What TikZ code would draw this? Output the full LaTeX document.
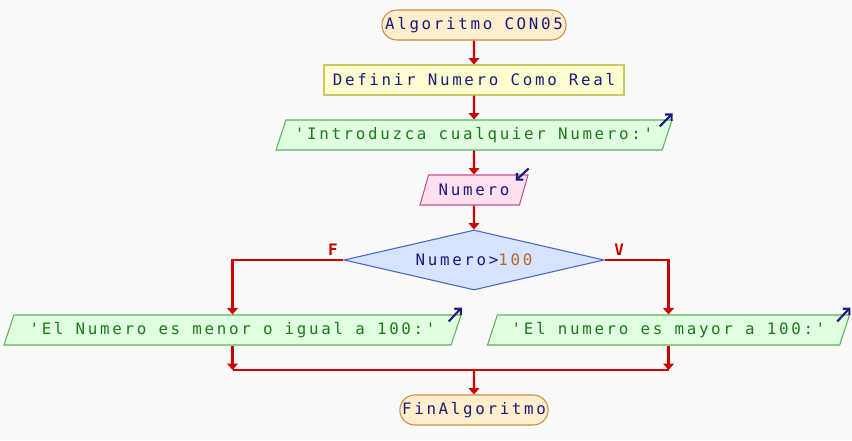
\documentclass[tikz,border=0pt]{standalone}
\usepackage{fontspec}
\newfontfamily\psfont[LetterSpace=17]{DejaVu Sans Mono}
\usepackage{xcolor}
\definecolor{psbg}{RGB}{250,250,250}
\definecolor{psred}{RGB}{204,0,0}
\definecolor{psnavy}{RGB}{26,26,128}
\definecolor{psgreen}{RGB}{30,120,30}
\definecolor{psnum}{RGB}{190,100,40}
\definecolor{psstartfill}{RGB}{255,238,204}
\definecolor{psstartdraw}{RGB}{200,140,70}
\definecolor{psdeffill}{RGB}{255,255,208}
\definecolor{psdefdraw}{RGB}{200,200,100}
\definecolor{psoutfill}{RGB}{224,255,224}
\definecolor{psoutdraw}{RGB}{90,180,90}
\definecolor{psinfill}{RGB}{255,224,240}
\definecolor{psindraw}{RGB}{200,80,140}
\definecolor{psiffill}{RGB}{214,228,255}
\definecolor{psifdraw}{RGB}{70,100,200}
\usepackage{tikz}
\usetikzlibrary{arrows.meta, positioning, shapes.geometric, shapes.misc}

\tikzset{
  psstart/.style={rounded rectangle, draw=psstartdraw, fill=psstartfill, line width=0.6pt,
    minimum height=0.6cm, text=psnavy},
  psdef/.style={rectangle, draw=psdefdraw, fill=psdeffill, line width=0.6pt,
    minimum height=0.6cm, text=psnavy},
  psout/.style={trapezium, trapezium left angle=70, trapezium right angle=110,
    trapezium stretches body, draw=psoutdraw, fill=psoutfill, line width=0.6pt,
    minimum height=0.6cm, text=psgreen},
  psin/.style={psout, draw=psindraw, fill=psinfill, text=psnavy},
  psif/.style={diamond, aspect=4.33, draw=psifdraw, fill=psiffill, line width=0.6pt,
    minimum width=5.2cm, minimum height=1.2cm, inner sep=0pt, text=psnavy},
  psflow/.style={draw=psred, line width=1.2pt, -{Triangle[length=3.6pt,width=6pt]}},
  psline/.style={draw=psred, line width=1.2pt},
  psflag/.style={text=psred, font=\psfont\fontsize{9}{11}\selectfont\bfseries, inner sep=1pt},
  psicon/.style={draw=psnavy, line width=1.2pt, -{Straight Barb[length=2.6pt]}}
}

\begin{document}
\begin{tikzpicture}[font=\psfont\fontsize{9}{11}\selectfont]
  \fill[psbg] (0,0) rectangle (17.04,8.8);
  \useasboundingbox (0,0) rectangle (17.04,8.8);

  % main column
  \node[psstart, minimum width=3.92cm] (start) at (9.48,8.3) {Algoritmo CON05};
  \node[psdef, minimum width=6.0cm] (def) at (9.48,7.2) {Definir Numero Como Real};
  \node[psout, minimum width=7.92cm] (out1) at (9.48,6.1) {'Introduzca cualquier Numero:'};
  \node[psin, minimum width=2.16cm] (in1) at (9.48,5.0) {Numero};
  \node[psif] (cond) at (9.48,3.6) {Numero>\textcolor{psnum}{100}};

  % branches
  \node[psout, minimum width=9.14cm] (outL) at (4.65,2.2) {'El Numero es menor o igual a 100:'};
  \node[psout, minimum width=7.24cm] (outR) at (13.37,2.2) {'El numero es mayor a 100:'};
  \coordinate (join) at (9.48,1.4);
  \node[psstart, minimum width=3.2cm] (fin) at (9.48,0.6) {FinAlgoritmo};

  % in / out marks
  \draw[psicon] ([shift={(-0.26,-0.14)}]out1.top right corner) -- ([yshift=0.12cm]out1.top right corner);
  \draw[psicon] ([yshift=0.12cm]in1.top right corner) -- ([shift={(-0.26,-0.12)}]in1.top right corner);
  \draw[psicon] ([shift={(-0.26,-0.14)}]outL.top right corner) -- ([yshift=0.14cm]outL.top right corner);
  \draw[psicon] ([shift={(-0.26,-0.14)}]outR.top right corner) -- ([yshift=0.14cm]outR.top right corner);

  % flow
  \draw[psflow] (start) -- (def);
  \draw[psflow] (def) -- (out1);
  \draw[psflow] (out1) -- (in1);
  \draw[psflow] (in1) -- (cond);
  \draw[psflow] (cond.west) node[psflag, above left=0.04cm and 0.06cm] {F} -| (outL.north);
  \draw[psflow] (cond.east) node[psflag, above right=0.04cm and 0.14cm] {V} -| (outR.north);
  \draw[psflow] (outL.south) -- (outL.south |- join);
  \draw[psflow] (outR.south) -- (outR.south |- join);
  \draw[psline] (outL.south |- join) -- (outR.south |- join);
  \draw[psflow] (join) -- (fin);
\end{tikzpicture}
\end{document}
